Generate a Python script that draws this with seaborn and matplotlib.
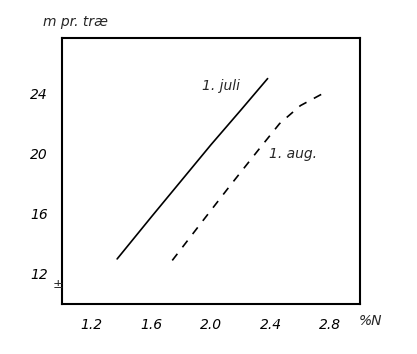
import matplotlib
matplotlib.use("Agg")
import matplotlib.pyplot as plt
import seaborn as sns
import pandas as pd

juli_n = [1.37, 1.60, 2.00, 2.20, 2.38]
juli_m = [13.0, 15.8, 20.6, 22.9, 25.0]
aug_n = [1.74, 1.95, 2.13, 2.33, 2.46, 2.60, 2.75]
aug_m = [12.9, 15.6, 17.9, 20.4, 22.0, 23.2, 24.0]
x_ticks = [1.2, 1.6, 2.0, 2.4, 2.8]
x_labels = ["1.2", "1.6", "2.0", "2.4", "2.8"]
y_ticks = [12, 16, 20, 24]
y_labels = ["12", "16", "20", "24"]

sns.set_style("white")
plt.rcParams["font.family"] = ["DejaVu Sans"]

df = pd.concat([
    pd.DataFrame({"N": juli_n, "m": juli_m, "dato": "1. juli"}),
    pd.DataFrame({"N": aug_n, "m": aug_m, "dato": "1. aug."}),
])

fig = plt.figure(figsize=(4.17, 3.54), dpi=100)
ax = fig.add_axes([0.1487, 0.1412, 0.8633 - 0.1487, 0.8927 - 0.1412])
sns.lineplot(data=df, x="N", y="m", style="dato", dashes={"1. juli": "", "1. aug.": (5, 5)},
             color="black", linewidth=1.2, legend=False, ax=ax, sort=False)

ax.set_xlim(1.0, 3.0)
ax.set_ylim(10, 27.7)
ax.set_xticks(x_ticks)
ax.set_xticklabels(x_labels, fontsize=10, style="italic")
ax.set_yticks(y_ticks)
ax.set_yticklabels(y_labels, fontsize=10, style="italic")
ax.tick_params(direction="inout", length=8, width=1.2, colors="black", pad=6)
ax.set_xlabel("")
ax.set_ylabel("")
for s in ax.spines.values():
    s.set_color("black")
    s.set_linewidth(1.5)

ax.text(2.07, 24.5, "1. juli", fontsize=10, style="italic", ha="center", va="center")
ax.text(2.55, 20.0, "1. aug.", fontsize=10, style="italic", ha="center", va="center")
fig.text(75 / 417, 1 - 22 / 354, "m pr. træ", fontsize=10, style="italic", ha="center", va="center")
fig.text(370 / 417, 1 - 321 / 354, "%N", fontsize=10, style="italic", ha="center", va="center")
fig.text(58 / 417, 1 - 285 / 354, "±", fontsize=9, ha="center", va="center")

fig.savefig("out.png", dpi=100)
